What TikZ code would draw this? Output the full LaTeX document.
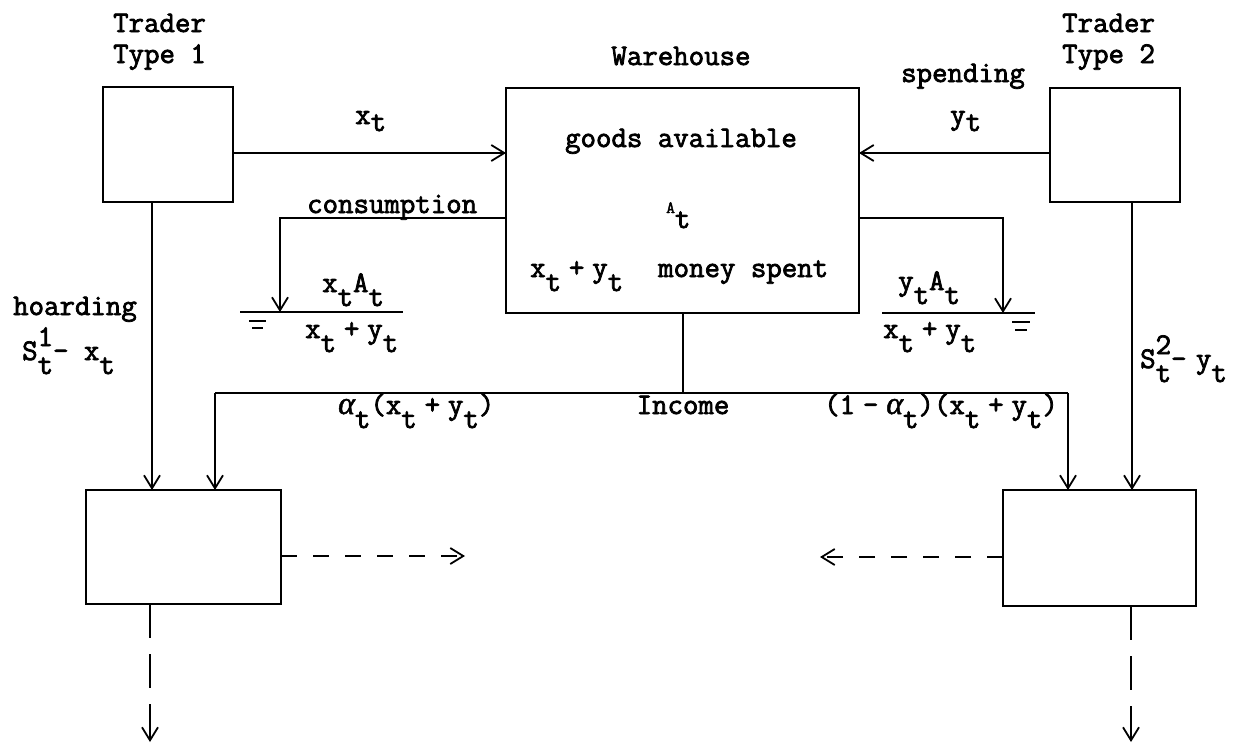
\documentclass[tikz,border=0pt]{standalone}
\usepackage{fontspec}
\setmainfont{Latin Modern Mono}[FakeBold=2.5]
\newfontfamily\gk{Liberation Serif}[FakeBold=1.5]
\usetikzlibrary{arrows.meta}
\newlength\cell
\setlength\cell{15.75pt}
\newcommand\lo[1]{\raisebox{-14pt}{#1}}
\newcommand\slo[1]{\raisebox{-7pt}{#1}}
\newcommand\hi[1]{\raisebox{14pt}{#1}}
\newcommand\pl{\hspace{0.5\cell}+\hspace{0.5\cell}}
\newcommand\mn{\hspace{0.5\cell}-\hspace{0.5\cell}}
\newcommand\al{{\gk\itshape\fontsize{32}{34}\selectfont α}}
\begin{document}
\begin{tikzpicture}[x=1pt,y=-1pt,
  box/.style={draw, line width=2.6pt, inner sep=0pt, outer sep=0pt},
  ln/.style={line width=1.8pt},
  arr/.style={ln, -{Straight Barb[length=13pt,width=16pt,line width=1.8pt]}},
  dsh/.style={arr, dash pattern=on 16pt off 16pt},
  vdsh/.style={arr, dash pattern=on 34pt off 16pt},
  lbl/.style={inner sep=0pt, font=\fontsize{30}{34}\selectfont},
]
\useasboundingbox (0,0) rectangle (1244,745);

% boxes
\node[box, minimum width=130pt, minimum height=115pt] (t1) at (168,144.5) {};
\node[box, minimum width=353pt, minimum height=225pt] (wh) at (682.5,200.5) {};
\node[box, minimum width=130pt, minimum height=114pt] (t2) at (1115,145) {};
\node[box, minimum width=195pt, minimum height=114pt] (b1) at (183.5,547) {};
\node[box, minimum width=193pt, minimum height=116pt] (b2) at (1099.5,548) {};

% helper coordinates
\coordinate (rowx) at (0,153);
\coordinate (rowc) at (0,218);
\coordinate (cl) at (280,312);
\coordinate (cr) at (1003,313);
\coordinate (inc) at (683,393);
\coordinate (incl) at (215,393);
\coordinate (incr) at (1068,393);
\coordinate (h1) at (152,0);
\coordinate (h2) at (1132,0);
\coordinate (d1) at (465,556);
\coordinate (d2) at (820,557);
\coordinate (e1) at (150,742);
\coordinate (e2) at (1131,742);

% connectors
\draw[arr] (t1.east |- rowx) -- (wh.west |- rowx);
\draw[arr] (t2.west |- rowx) -- (wh.east |- rowx);
\draw[arr] (wh.west |- rowc) -| (cl);
\draw[arr] (wh.east |- rowc) -| (cr);
\draw[arr] (t1.south -| h1) -- (b1.north -| h1);
\draw[arr] (t2.south -| h2) -- (b2.north -| h2);
\draw[ln] (wh.south -| inc) -- (inc);
\draw[ln] (incl) -- (incr);
\draw[arr] (incl) -- (b1.north -| incl);
\draw[arr] (incr) -- (b2.north -| incr);
\draw[dsh] (b1.east |- d1) -- (d1);
\draw[dsh] (b2.west |- d2) -- (d2);
\draw[vdsh] (b1.south -| e1) -- (e1);
\draw[vdsh] (b2.south -| e2) -- (e2);

% fraction bars and ground marks
\draw[ln] (240,312) -- (403,312);
\draw[ln] (882,313) -- (1035,313);
\draw[line width=1.4pt] (249,321) -- (266,321) (252,328) -- (263,328);
\draw[line width=1.4pt] (1012,322) -- (1030,322) (1015,330) -- (1027,330);

% labels
\node[lbl, anchor=base west] (tr1a) at (113,32) {Trader};
\node[lbl, anchor=base west] (tr1b) at (113,63) {Type 1};
\node[lbl, anchor=base west] (tr2a) at (1062,32) {Trader};
\node[lbl, anchor=base west] (tr2b) at (1062,63) {Type 2};
\node[lbl, anchor=base] (whl) at (681,65) {Warehouse};
\node[lbl, anchor=base west] (xt) at (355,124) {x\slo{t}};
\node[lbl, anchor=base] (sp) at (963,82) {spending};
\node[lbl, anchor=base west] (yt) at (950,124) {y\slo{t}};
\node[lbl, anchor=base] (ga) at (681,147) {goods available};
\node[lbl, anchor=base west] (at) at (666,213) {{\fontsize{17}{18}\selectfont A}\raisebox{-15pt}{t}};
\node[lbl, anchor=base west] (xy) at (530,277) {x\lo{t}\pl y\lo{t}};
\node[lbl, anchor=base west] (ms) at (658,277) {money spent};
\node[lbl, anchor=base west] (cons) at (307,213) {consumption};
\node[lbl, anchor=base west] (fn1) at (322,292) {x\lo{t}A\lo{t}};
\node[lbl, anchor=base west] (fd1) at (305,338) {x\lo{t}\pl y\lo{t}};
\node[lbl, anchor=base west] (fn2) at (898,290) {y\lo{t}A\lo{t}};
\node[lbl, anchor=base west] (fd2) at (883,338) {x\lo{t}\pl y\lo{t}};
\node[lbl, anchor=base west] (hd) at (13,315) {hoarding};
\node[lbl, anchor=base west] (s1) at (22,360) {S\rlap{\hi{1}}\lo{t}- x\lo{t}};
\node[lbl, anchor=base west] (s2) at (1140,368) {S\rlap{\hi{2}}\lo{t}-\hspace{0.6\cell}y\lo{t}};
\node[lbl, anchor=base west] (ia) at (338,414) {\al\lo{t}(x\lo{t}\pl y\lo{t})};
\node[lbl, anchor=base] (inl) at (683,414) {Income};
\node[lbl, anchor=base west] (ib) at (824,414) {(1\mn\al\lo{t})(x\lo{t}\pl y\lo{t})};
\end{tikzpicture}
\end{document}
